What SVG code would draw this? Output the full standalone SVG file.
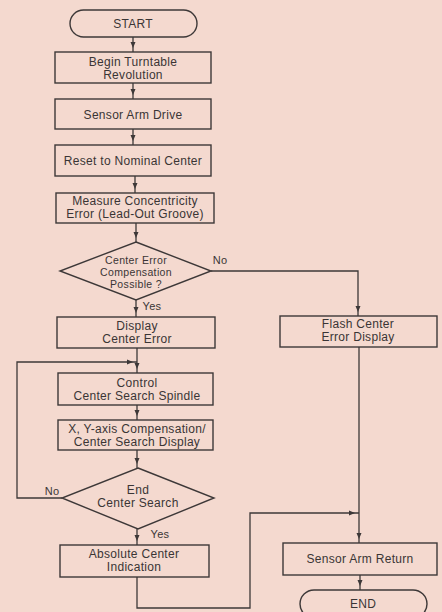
<svg xmlns="http://www.w3.org/2000/svg" width="442" height="612" viewBox="0 0 442 612">
<defs>
<style>
.bg{fill:#f4d9cf}
.box{fill:none;stroke:#3d3838;stroke-width:1.4}
.ln{fill:none;stroke:#3d3838;stroke-width:1.3}
text{font-family:"Liberation Sans",Arial,sans-serif;font-size:12px;fill:#3a3535;text-anchor:middle;letter-spacing:0.3px}
.lbl{font-size:11px}
.dt{font-size:10.5px;letter-spacing:0.35px}
</style>
<marker id="ah" viewBox="0 0 12 6" refX="10" refY="3" markerWidth="12" markerHeight="6" markerUnits="userSpaceOnUse" orient="auto">
<path d="M0,0.5 L6,3 L0,5.5 z" fill="#3d3838"/>
</marker>
</defs>
<rect class="bg" x="0" y="0" width="442" height="612"/>

<g id="connectors">
<path class="ln" marker-end="url(#ah)" d="M133,37 V52"/>
<path class="ln" marker-end="url(#ah)" d="M133,83 V99"/>
<path class="ln" marker-end="url(#ah)" d="M133,129 V145"/>
<path class="ln" marker-end="url(#ah)" d="M135,176 V193"/>
<path class="ln" marker-end="url(#ah)" d="M136,223 V242"/>
<path class="ln" marker-end="url(#ah)" d="M136,300 V317"/>
<path class="ln" marker-end="url(#ah)" d="M211,271 H358 V316"/>
<path class="ln" d="M137,348 V362"/>
<path class="ln" marker-end="url(#ah)" d="M137,362 V373"/>
<path class="ln" marker-end="url(#ah)" d="M137,405 V420"/>
<path class="ln" marker-end="url(#ah)" d="M137,450 V468"/>
<path class="ln" marker-end="url(#ah)" d="M62,498 H17 V362 H137"/>
<path class="ln" marker-end="url(#ah)" d="M137,529 V545"/>
<path class="ln" marker-end="url(#ah)" d="M137,577 V608 H250 V513 H359"/>
<path class="ln" marker-end="url(#ah)" d="M359,347 V543"/>
<path class="ln" marker-end="url(#ah)" d="M360,575 V590"/>
<text class="lbl" x="220" y="264">No</text>
<text class="lbl" x="152" y="310">Yes</text>
<text class="lbl" x="52" y="495">No</text>
<text class="lbl" x="160" y="538">Yes</text>
</g>

<g id="start">
<rect class="box" x="70" y="10" width="127" height="27" rx="13.5"/>
<text x="133" y="28">START</text>
</g>
<g id="begin">
<rect class="box" x="55" y="52" width="156" height="31"/>
<text x="133" y="66">Begin Turntable</text>
<text x="133" y="79">Revolution</text>
</g>
<g id="sensor-drive">
<rect class="box" x="55" y="99" width="156" height="30"/>
<text x="133" y="119">Sensor Arm Drive</text>
</g>
<g id="reset">
<rect class="box" x="55" y="145" width="156" height="31"/>
<text x="133" y="165">Reset to Nominal Center</text>
</g>
<g id="measure">
<rect class="box" x="56" y="193" width="158" height="30"/>
<text x="135" y="205">Measure Concentricity</text>
<text x="135" y="218">Error (Lead-Out Groove)</text>
</g>
<g id="decision1">
<polygon class="box" points="136,242 211,271 136,300 60,271"/>
<text class="dt" x="136" y="264">Center Error</text>
<text class="dt" x="136" y="276">Compensation</text>
<text class="dt" x="136" y="288">Possible ?</text>
</g>
<g id="display">
<rect class="box" x="57" y="317" width="158" height="31"/>
<text x="137" y="330">Display</text>
<text x="137" y="343">Center Error</text>
</g>
<g id="flash">
<rect class="box" x="280" y="316" width="157" height="31"/>
<text x="358" y="328">Flash Center</text>
<text x="358" y="341">Error Display</text>
</g>
<g id="control">
<rect class="box" x="58" y="373" width="155" height="32"/>
<text x="137" y="387">Control</text>
<text x="137" y="400">Center Search Spindle</text>
</g>
<g id="xy">
<rect class="box" x="58" y="420" width="155" height="30"/>
<text x="137" y="433">X, Y-axis Compensation/</text>
<text x="137" y="446">Center Search Display</text>
</g>
<g id="decision2">
<polygon class="box" points="138,468 214,498 138,529 62,498"/>
<text x="138" y="494">End</text>
<text x="138" y="507">Center Search</text>
</g>
<g id="absolute">
<rect class="box" x="60" y="545" width="149" height="32"/>
<text x="134" y="558">Absolute Center</text>
<text x="134" y="571">Indication</text>
</g>
<g id="sensor-return">
<rect class="box" x="283" y="543" width="154" height="32"/>
<text x="360" y="563">Sensor Arm Return</text>
</g>
<g id="end">
<rect class="box" x="300" y="590" width="127" height="28" rx="14"/>
<text x="363" y="608">END</text>
</g>
</svg>
